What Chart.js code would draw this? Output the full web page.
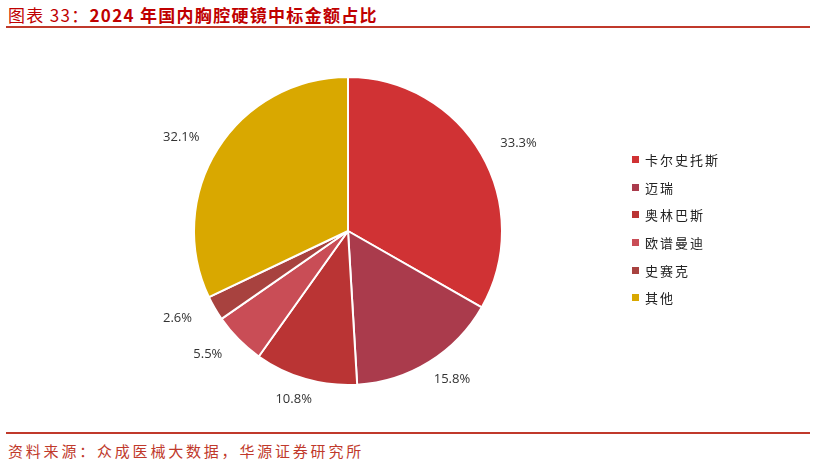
<!DOCTYPE html>
<html>
<head>
<meta charset="utf-8">
<script src="https://cdn.jsdelivr.net/npm/chart.js@4"></script>
<style>
  body { margin: 0; background: #fff; font-family: "Noto Sans CJK SC", sans-serif; }
  #page { position: relative; width: 815px; height: 466px; overflow: hidden; }
  #title { position: absolute; left: 8px; top: 2px; font-size: 17px; color: #C00000; white-space: nowrap; letter-spacing: 1.3px; }
  #title .pre { font-weight: normal; }
  #title .main { font-weight: bold; }
  .rule { position: absolute; left: 6px; width: 804px; height: 2px; background: #C0392B; }
  #wrap { position: absolute; left: 0; top: 40px; width: 696px; height: 382px; }
  #legend { position: absolute; left: 632px; top: 146px; font-size: 13px; color: #222; letter-spacing: 2px; }
  #legend div { height: 27.6px; display: flex; align-items: center; }
  #legend span.sw { display: inline-block; width: 7px; height: 7px; margin-right: 6px; }
  #source { position: absolute; left: 8px; top: 440px; font-size: 15px; color: #C0392B; white-space: nowrap; letter-spacing: 2.8px; }
</style>
</head>
<body>
<div id="page">
  <div id="title"><span class="pre">图表 33：</span><span class="main">2024 年国内胸腔硬镜中标金额占比</span></div>
  <div class="rule" style="top:26px"></div>
  <div id="wrap"><canvas id="chart-pie"></canvas></div>
  <div id="legend"></div>
  <div class="rule" style="top:432px"></div>
  <div id="source">资料来源：众成医械大数据，华源证券研究所</div>
</div>
<script>
const labels = ['卡尔史托斯', '迈瑞', '奥林巴斯', '欧谱曼迪', '史赛克', '其他'];
const shares = [33.3, 15.8, 10.8, 5.5, 2.6, 32.1];
const colors = ['#D03234', '#AA3B4C', '#BA3434', '#C94D56', '#A8423F', '#D9A800'];

// percentage labels outside each slice
const outsideLabels = {
  id: 'outsideLabels',
  afterDatasetsDraw(chart) {
    const ctx = chart.ctx;
    const meta = chart.getDatasetMeta(0);
    ctx.save();
    ctx.font = '13px "Open Sans", sans-serif';
    ctx.fillStyle = '#333';
    ctx.textAlign = 'center';
    ctx.textBaseline = 'middle';
    meta.data.forEach((arc, i) => {
      const mid = (arc.startAngle + arc.endAngle) / 2;
      const r = arc.outerRadius + 32;
      ctx.fillText(shares[i].toFixed(1) + '%', arc.x + Math.cos(mid) * r * 1.06, arc.y + Math.sin(mid) * r * 0.94);
    });
    ctx.restore();
  }
};

new Chart(document.getElementById('chart-pie'), {
  type: 'pie',
  data: {
    labels,
    datasets: [{
      data: shares,
      backgroundColor: colors,
      borderColor: '#fff',
      borderWidth: 2
    }]
  },
  options: {
    responsive: true,
    maintainAspectRatio: false,
    animation: false,
    layout: { padding: { left: 193, right: 193, top: 36, bottom: 36 } },
    plugins: {
      legend: { display: false },
      tooltip: { enabled: false }
    }
  },
  plugins: [outsideLabels]
});

const legend = document.getElementById('legend');
labels.forEach((name, i) => {
  const row = document.createElement('div');
  row.innerHTML = `<span class="sw" style="background:${colors[i]}"></span>${name}`;
  legend.appendChild(row);
});
</script>
</body>
</html>
